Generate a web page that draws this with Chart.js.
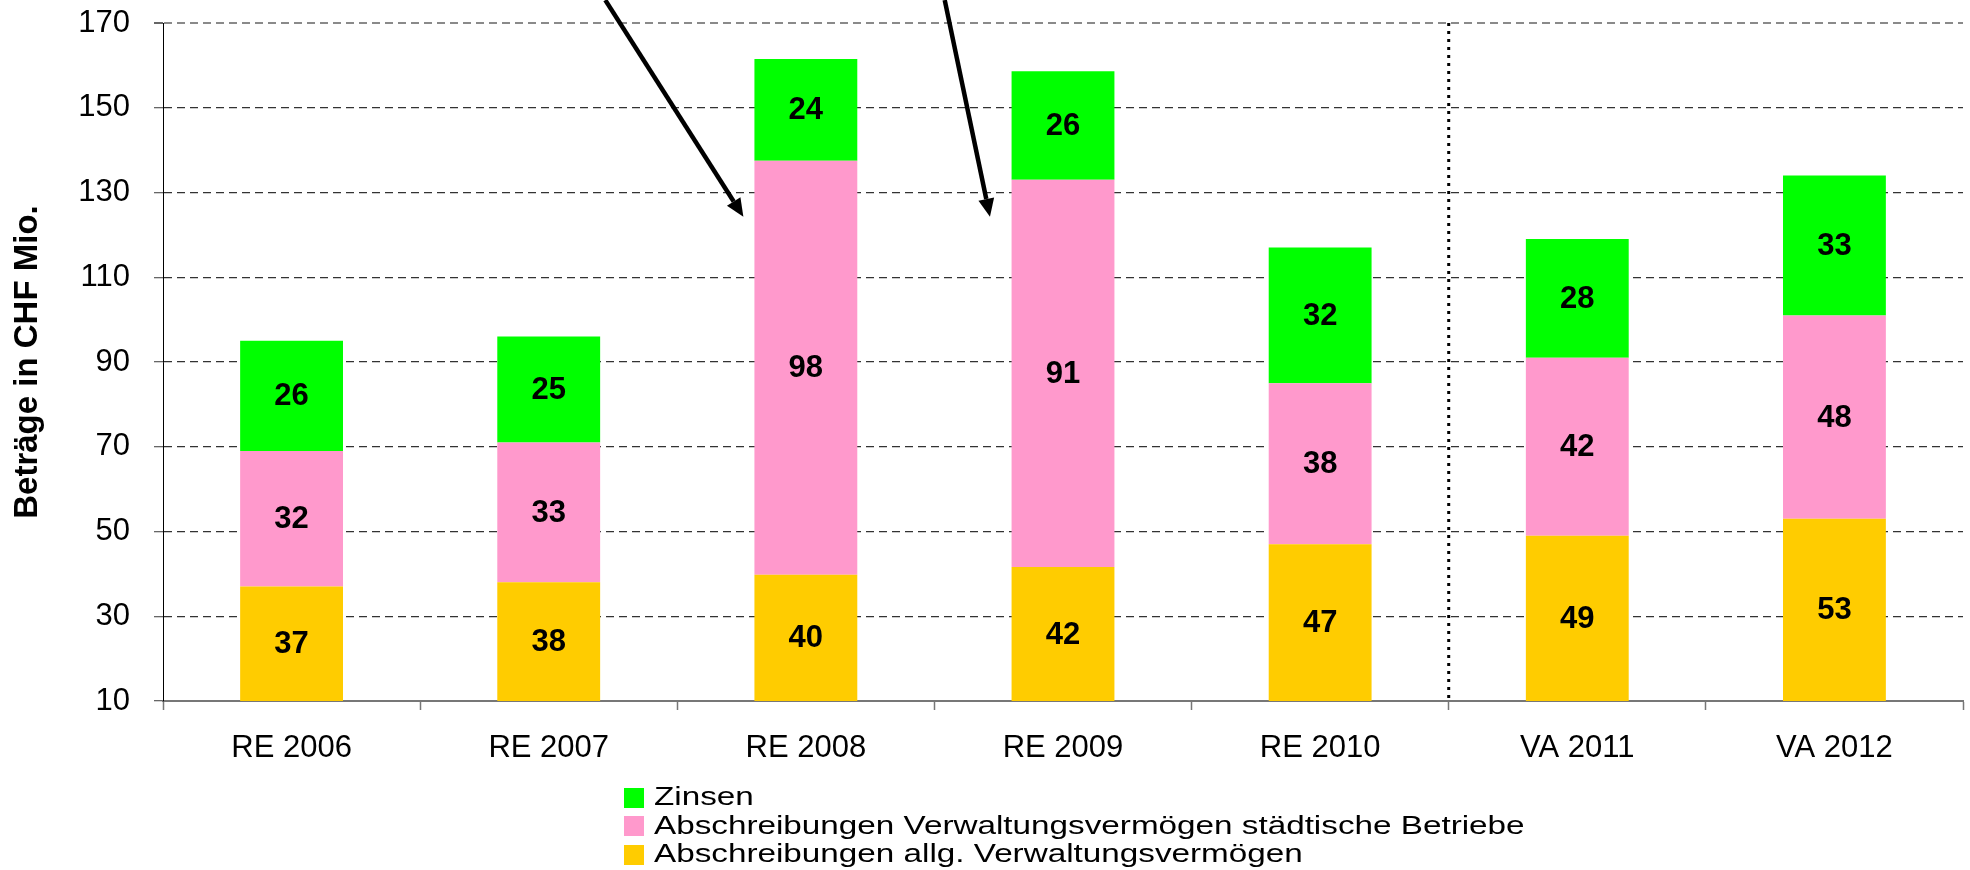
<!DOCTYPE html>
<html>
<head>
<meta charset="utf-8">
<script src="https://cdn.jsdelivr.net/npm/chart.js@4"></script>
<style>
  body { margin: 0; background: #fff; }
  #wrap { position: relative; width: 1970px; height: 870px; }
  #legend { position: absolute; left: 624px; top: 782px; font-family: 'Liberation Sans', Arial, sans-serif; font-size: 25px; color: #000; }
  .row { position: relative; height: 28.5px; line-height: 28.5px; white-space: nowrap; }
  .box { position: absolute; left: 0; top: 5.5px; width: 20px; height: 20px; }
  .txt { position: absolute; left: 30px; top: 0; transform: scaleX(1.33); transform-origin: left center; }
</style>
</head>
<body>
<div id="wrap">
  <canvas id="myChart"></canvas>
  <div id="legend"></div>
</div>
<script>
let categories = ['RE 2006', 'RE 2007', 'RE 2008', 'RE 2009', 'RE 2010', 'VA 2011', 'VA 2012']
let abschreibungenAllg = [37, 38, 39.8, 41.6, 47, 49, 53]
let abschreibungenBetriebe = [32, 33, 97.7, 91.4, 38, 42, 48]
let zinsen = [26, 25, 24, 25.6, 32, 28, 33]

let yMin = 10
let yMax = 170
let yStep = 20

// arrows: category index, offset in category widths, value
let arrows = [
  { from: [2, -0.78, 175.4], to: [2, -0.243, 124.3] },
  { from: [3, -0.46, 175.4], to: [3, -0.284, 124.3] },
]
// dotted separator between RE 2010 and VA 2011
let separatorAfter = 4

let font = "'Liberation Sans', Arial, sans-serif"

let extras = {
  id: 'extras',
  afterDatasetsDraw(chart) {
    let ctx = chart.ctx
    let x = chart.scales.x
    let y = chart.scales.y
    let area = chart.chartArea

    // value labels, centred in visible part of each segment
    ctx.save()
    ctx.font = 'bold 31px ' + font
    ctx.fillStyle = '#000'
    ctx.textAlign = 'center'
    ctx.textBaseline = 'middle'
    chart.data.datasets.forEach((ds, i) => {
      chart.getDatasetMeta(i).data.forEach((bar, j) => {
        let top = Math.max(Math.min(bar.y, bar.base), area.top)
        let bottom = Math.min(Math.max(bar.y, bar.base), area.bottom)
        ctx.fillText(Math.round(ds.data[j]), bar.x, (top + bottom) / 2 + 1)
      })
    })
    ctx.restore()

    // dotted vertical line
    let sx = (x.getPixelForValue(separatorAfter) + x.getPixelForValue(separatorAfter + 1)) / 2
    ctx.save()
    ctx.strokeStyle = '#000'
    ctx.lineWidth = 3
    ctx.setLineDash([3, 5])
    ctx.beginPath()
    ctx.moveTo(sx, area.top)
    ctx.lineTo(sx, area.bottom)
    ctx.stroke()
    ctx.restore()

    // arrows
    let cw = x.getPixelForValue(1) - x.getPixelForValue(0)
    ctx.save()
    ctx.strokeStyle = '#000'
    ctx.fillStyle = '#000'
    ctx.lineWidth = 4.5
    arrows.forEach((a) => {
      let x1 = x.getPixelForValue(a.from[0]) + a.from[1] * cw
      let y1 = y.getPixelForValue(a.from[2])
      let x2 = x.getPixelForValue(a.to[0]) + a.to[1] * cw
      let y2 = y.getPixelForValue(a.to[2])
      let ang = Math.atan2(y2 - y1, x2 - x1)
      let len = 18
      let half = 8
      let bx = x2 - len * Math.cos(ang)
      let by = y2 - len * Math.sin(ang)
      ctx.beginPath()
      ctx.moveTo(x1, y1)
      ctx.lineTo(bx, by)
      ctx.stroke()
      ctx.beginPath()
      ctx.moveTo(x2, y2)
      ctx.lineTo(bx + half * Math.sin(ang), by - half * Math.cos(ang))
      ctx.lineTo(bx - half * Math.sin(ang), by + half * Math.cos(ang))
      ctx.closePath()
      ctx.fill()
    })
    ctx.restore()
  },
}

let myChart = document.getElementById('myChart').getContext('2d')

let chart1 = new Chart(myChart, {
  type: 'bar',
  data: {
    labels: categories,
    datasets: [
      {
        label: 'Abschreibungen allg. Verwaltungsvermögen',
        data: abschreibungenAllg,
        backgroundColor: '#FFCC00',
      },
      {
        label: 'Abschreibungen Verwaltungsvermögen städtische Betriebe',
        data: abschreibungenBetriebe,
        backgroundColor: '#FF99CC',
      },
      {
        label: 'Zinsen',
        data: zinsen,
        backgroundColor: '#00FF00',
      },
    ],
  },
  options: {
    responsive: true,
    maintainAspectRatio: false,
    animation: false,
    layout: { padding: { top: 23, right: 7, left: 0, bottom: 0 } },
    datasets: { bar: { categoryPercentage: 1, barPercentage: 0.4 } },
    plugins: {
      legend: { display: false },
      tooltip: { enabled: false },
    },
    scales: {
      x: {
        stacked: true,
        afterFit: (s) => {
          s.height = 169
          s.paddingLeft = 0
          s.paddingRight = 0
        },
        grid: { drawOnChartArea: false, tickLength: 9, tickColor: '#777', tickWidth: 1.5 },
        border: { color: '#777', width: 2 },
        ticks: { color: '#000', padding: 20, font: { family: font, size: 31 } },
      },
      y: {
        stacked: true,
        min: yMin,
        max: yMax,
        afterFit: (s) => {
          s.width = 163
          s.paddingTop = 0
          s.paddingBottom = 0
        },
        ticks: { stepSize: yStep, color: '#000', padding: 24, font: { family: font, size: 31 } },
        grid: {
          tickLength: 9,
          color: (c) => (c.tick && c.tick.value === yMax ? '#8a8a8a' : '#333'),
          lineWidth: (c) => (c.tick && c.tick.value === yMax ? 2 : 1.3),
          tickColor: '#666',
        },
        border: { color: '#000', width: 1, dash: [8, 5] },
        title: {
          display: true,
          text: 'Beträge in CHF Mio.',
          color: '#000',
          padding: { top: 8, bottom: 0 },
          font: { family: font, size: 33, weight: 'bold' },
        },
      },
    },
  },
  plugins: [extras],
})

let legend = document.getElementById('legend')
chart1.data.datasets.slice().reverse().forEach((ds) => {
  let row = document.createElement('div')
  row.className = 'row'
  let box = document.createElement('span')
  box.className = 'box'
  box.style.background = ds.backgroundColor
  let txt = document.createElement('span')
  txt.className = 'txt'
  txt.textContent = ds.label
  row.appendChild(box)
  row.appendChild(txt)
  legend.appendChild(row)
})
</script>
</body>
</html>
